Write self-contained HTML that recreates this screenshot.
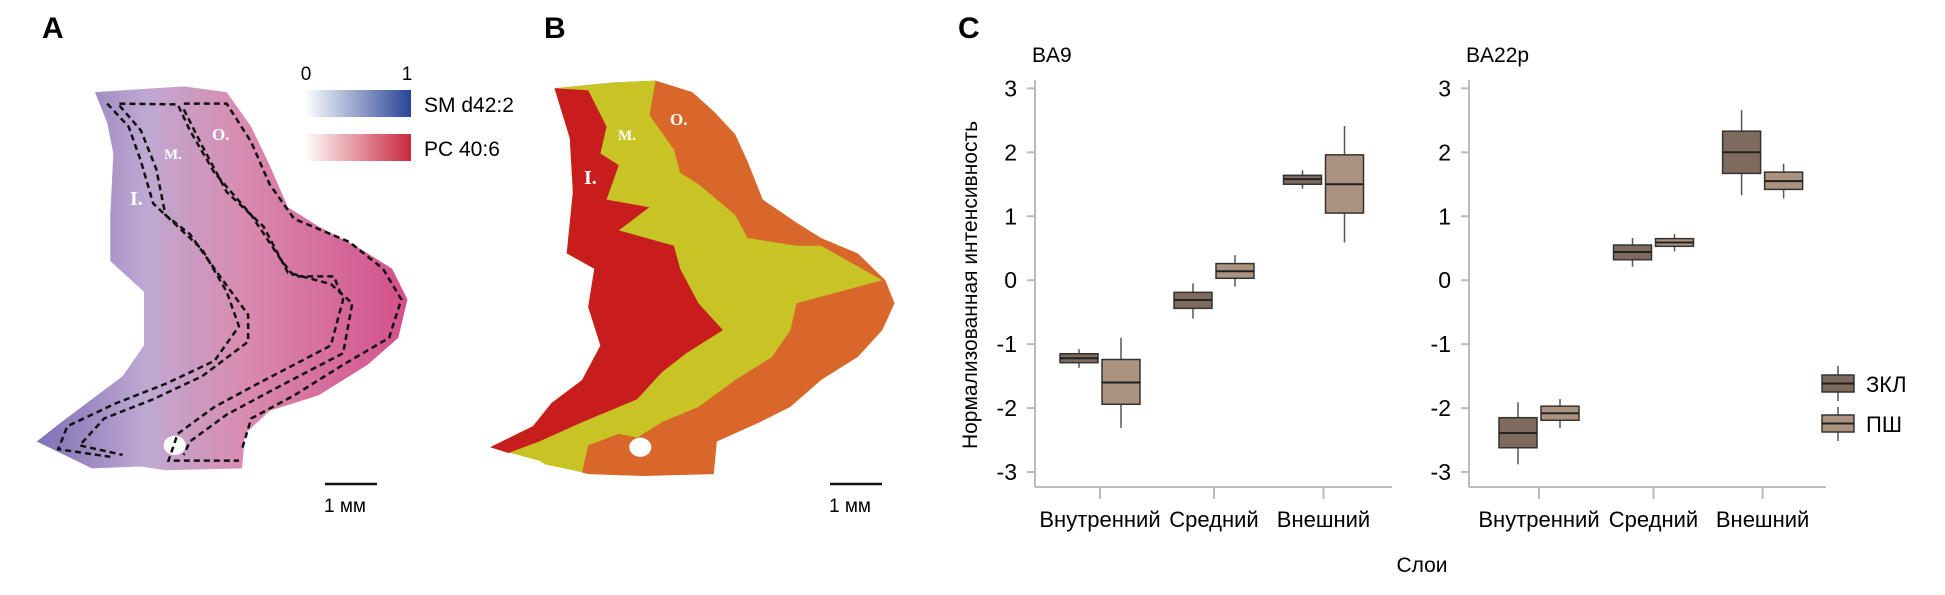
<!DOCTYPE html>
<html><head><meta charset="utf-8"><style>
html,body{margin:0;padding:0;background:#fff;}
svg{display:block;font-family:"Liberation Sans",sans-serif;}
</style></head><body>
<svg id="fig" width="1945" height="595" viewBox="0 0 1945 595" xmlns="http://www.w3.org/2000/svg">
<defs>
<linearGradient id="gA" x1="0" y1="0" x2="1" y2="0">
<stop offset="0" stop-color="#7f6fb5"/><stop offset="0.3" stop-color="#c0a9d2"/><stop offset="0.55" stop-color="#d88cb0"/><stop offset="1" stop-color="#d4508a"/></linearGradient>
<linearGradient id="gBlue" x1="0" y1="0" x2="1" y2="0"><stop offset="0" stop-color="#fff"/><stop offset="1" stop-color="#2a4597"/></linearGradient>
<linearGradient id="gRed" x1="0" y1="0" x2="1" y2="0"><stop offset="0" stop-color="#fff"/><stop offset="1" stop-color="#c8283c"/></linearGradient>
</defs>

<!-- Panel A -->
<text x="42" y="38" font-size="30" font-weight="bold">A</text>
<g transform="scale(0.6127,0.3839)">
<polygon fill="url(#gA)" points="155,240 300,225 370,240 410,330 440,430 470,540 520,590 580,640 640,700 665,780 650,880 600,950 520,1030 440,1070 400,1130 395,1220 270,1225 230,1215 150,1220 60,1150 100,1100 200,980 235,900 235,760 180,680 180,560 185,400 175,320"/>
<ellipse cx="285" cy="1160" rx="18" ry="25" fill="#fff"/>
<g fill="none" stroke="#111" stroke-width="2.5" stroke-dasharray="6,4">
<polyline vector-effect="non-scaling-stroke" points="175,270 210,330 230,420 250,530 290,590 330,650 370,760 390,850 350,940 270,1000 190,1050 110,1110 95,1170 180,1190"/>
<polyline vector-effect="non-scaling-stroke" points="195,275 230,340 255,440 270,560 310,610 350,700 405,820 405,890 330,980 250,1040 170,1090 130,1160 200,1185"/>
<polyline vector-effect="non-scaling-stroke" points="195,270 290,272 310,340 350,450 410,560 460,680 480,720 545,720 560,780 540,900 420,1000 350,1060 290,1130 275,1200 390,1200"/>
<polyline vector-effect="non-scaling-stroke" points="300,285 330,380 370,500 430,590 470,710 540,740 575,790 560,920 440,1020 370,1080 310,1150 300,1185"/>
<polyline vector-effect="non-scaling-stroke" points="300,270 370,270 410,370 440,480 480,570 570,630 625,700 655,780 635,880 560,950 480,1030 410,1090 395,1170"/>
</g>
</g>
<text x="212" y="140" font-family="Liberation Serif,serif" font-weight="bold" font-size="17" fill="#fff">O.</text>
<text x="164" y="159" font-family="Liberation Serif,serif" font-weight="bold" font-size="15" fill="#fff">M.</text>
<text x="130" y="205" font-family="Liberation Serif,serif" font-weight="bold" font-size="20" fill="#fff">I.</text>
<g>
<text x="306" y="80" font-size="19" text-anchor="middle">0</text>
<text x="407" y="80" font-size="19" text-anchor="middle">1</text>
<rect x="304" y="90" width="107" height="27" fill="url(#gBlue)"/>
<rect x="304" y="134" width="107" height="27" fill="url(#gRed)"/>
<text x="424" y="112" font-size="21">SM d42:2</text>
<text x="424" y="156" font-size="21">PC 40:6</text>
</g>
<g>
<line x1="325" y1="484" x2="377" y2="484" stroke="#111" stroke-width="2.5"/>
<text x="324" y="512" font-size="19">1 мм</text>
</g>

<!-- Panel B -->
<text x="544" y="38" font-size="30" font-weight="bold">B</text>
<g transform="scale(0.6127,0.3839)">
<polygon fill="#d9672a" points="905,230 1000,215 1070,210 1130,240 1165,290 1200,350 1220,420 1245,520 1300,580 1340,620 1400,660 1445,730 1460,790 1440,860 1400,930 1340,990 1290,1060 1240,1100 1170,1150 1165,1235 1050,1240 960,1235 880,1200 800,1165 870,1110 900,1050 950,990 980,900 960,800 970,700 925,660 935,500 930,360"/>
<polygon fill="#c8c425" points="905,230 1000,215 1070,210 1060,300 1100,390 1110,450 1140,480 1200,560 1220,620 1300,640 1340,640 1440,730 1300,790 1290,860 1260,930 1200,990 1140,1060 1080,1100 1040,1140 1010,1130 960,1160 950,1230 890,1210 880,1200 800,1165 870,1110 900,1050 950,990 980,900 960,800 970,700 925,660 935,500 930,360"/>
<polygon fill="#c81d1d" points="905,230 960,235 990,330 980,400 1010,430 990,520 1060,540 1010,600 1100,640 1110,700 1140,790 1180,860 1120,920 1080,970 1040,1040 950,1100 880,1150 830,1180 800,1165 870,1110 900,1050 950,990 980,900 960,800 970,700 925,660 935,500 930,360"/>
<ellipse cx="1045" cy="1165" rx="18" ry="25" fill="#fff"/>
</g>
<text x="670" y="125" font-family="Liberation Serif,serif" font-weight="bold" font-size="17" fill="#fff">O.</text>
<text x="618" y="140" font-family="Liberation Serif,serif" font-weight="bold" font-size="15" fill="#fff">M.</text>
<text x="584" y="184" font-family="Liberation Serif,serif" font-weight="bold" font-size="20" fill="#fff">I.</text>
<g>
<line x1="830" y1="484" x2="882" y2="484" stroke="#111" stroke-width="2.5"/>
<text x="829" y="512" font-size="19">1 мм</text>
</g>

<!-- Panel C -->
<text x="958" y="38" font-size="30" font-weight="bold">C</text>
<text transform="translate(977,285) rotate(-90)" font-size="21" text-anchor="middle">Нормализованная интенсивность</text>
<text x="1422" y="572" font-size="21" text-anchor="middle">Слои</text>
<g id="plots"></g>
<g>
<g>
<line x1="1838" y1="366" x2="1838" y2="401" stroke="#555" stroke-width="1.5"/>
<rect x="1822" y="375" width="32" height="17" fill="#7e6b5d" stroke="#333" stroke-width="1.5"/>
<line x1="1822" y1="383.5" x2="1854" y2="383.5" stroke="#222" stroke-width="2"/>
<text x="1866" y="392" font-size="22">ЗКЛ</text>
</g>
<g>
<line x1="1838" y1="407" x2="1838" y2="441" stroke="#555" stroke-width="1.5"/>
<rect x="1822" y="415" width="32" height="17" fill="#ab9380" stroke="#333" stroke-width="1.5"/>
<line x1="1822" y1="423.5" x2="1854" y2="423.5" stroke="#222" stroke-width="2"/>
<text x="1866" y="432" font-size="22">ПШ</text>
</g>
</g>
</svg>
<script>
const categories = ["Внутренний", "Средний", "Внешний"];
const yTicks = [3, 2, 1, 0, -1, -2, -3];
// [whiskerLow, q1, median, q3, whiskerHigh] per category
const ba9_zkl = [[-1.37,-1.29,-1.22,-1.15,-1.08],[-0.6,-0.44,-0.31,-0.19,-0.05],[1.43,1.5,1.58,1.64,1.72]];
const ba9_psh = [[-2.31,-1.94,-1.6,-1.24,-0.9],[-0.1,0.03,0.14,0.26,0.39],[0.59,1.05,1.5,1.96,2.41]];
const ba22_zkl = [[-2.88,-2.62,-2.39,-2.15,-1.91],[0.21,0.32,0.44,0.55,0.66],[1.33,1.67,2.0,2.33,2.66]];
const ba22_psh = [[-2.31,-2.19,-2.08,-1.97,-1.86],[0.45,0.53,0.59,0.65,0.72],[1.28,1.42,1.55,1.69,1.82]];

const NS = "http://www.w3.org/2000/svg";
const root = document.getElementById("plots");
function mk(tag, attrs, parent) {
  const e = document.createElementNS(NS, tag);
  for (const k in attrs) e.setAttribute(k, attrs[k]);
  parent.appendChild(e);
  return e;
}
function yScale(v) { return 280.2 - 63.95 * v; }

const panels = [
  { title: "BA9", x0: 1035, x1: 1392, cats: [1100, 1214, 1323.5], labelX: 1017, a: ba9_zkl, b: ba9_psh },
  { title: "BA22p", x0: 1469, x1: 1826, cats: [1539, 1653.5, 1762.6], labelX: 1451, a: ba22_zkl, b: ba22_psh }
];
function xScale(p, i) { return p.cats[i]; }

panels.forEach(function(p, pi) {
  const g = mk("g", {}, root);
  
  
  const t = mk("text", { x: p.x0 - 3, y: 62, "font-size": 21 }, g);
  t.textContent = p.title;
  
  
  const ya = mk("line", { x1: p.x0, y1: 80, x2: p.x0, y2: 487, stroke: "#bbb", "stroke-width": 2 }, g);
  
  
  const xa = mk("line", { x1: p.x0, y1: 487, x2: p.x1, y2: 487, stroke: "#bbb", "stroke-width": 2 }, g);
  
  
  yTicks.forEach(function(v) {
    const y = yScale(v);
    mk("line", { x1: p.x0 - 8, y1: y, x2: p.x0, y2: y, stroke: "#bbb", "stroke-width": 2 }, g);
    const tl = mk("text", { x: p.labelX, y: y + 8, "font-size": 23, "text-anchor": "end" }, g);
    tl.textContent = String(v);
    
    
  });
  categories.forEach(function(c, i) {
    const x = xScale(p, i);
    mk("line", { x1: x, y1: 487, x2: x, y2: 499, stroke: "#bbb", "stroke-width": 2 }, g);
    const cl = mk("text", { x: x, y: 527, "font-size": 22, "text-anchor": "middle" }, g);
    cl.textContent = c;
    
    
  });
  [[p.a, -21, "#7e6b5d", "zkl"], [p.b, 21, "#ab9380", "psh"]].forEach(function(s) {
    s[0].forEach(function(d, i) {
      const cx = xScale(p, i) + s[1];
      const bg = mk("g", {}, g);
      
      
      mk("line", { x1: cx, y1: yScale(d[0]), x2: cx, y2: yScale(d[4]), stroke: "#555", "stroke-width": 1.5 }, bg);
      mk("rect", { x: cx - 19, y: yScale(d[3]), width: 38, height: yScale(d[1]) - yScale(d[3]), fill: s[2], stroke: "#333", "stroke-width": 1.5 }, bg);
      mk("line", { x1: cx - 19, y1: yScale(d[2]), x2: cx + 19, y2: yScale(d[2]), stroke: "#222", "stroke-width": 2 }, bg);
    });
  });
});
</script>
</body></html>
